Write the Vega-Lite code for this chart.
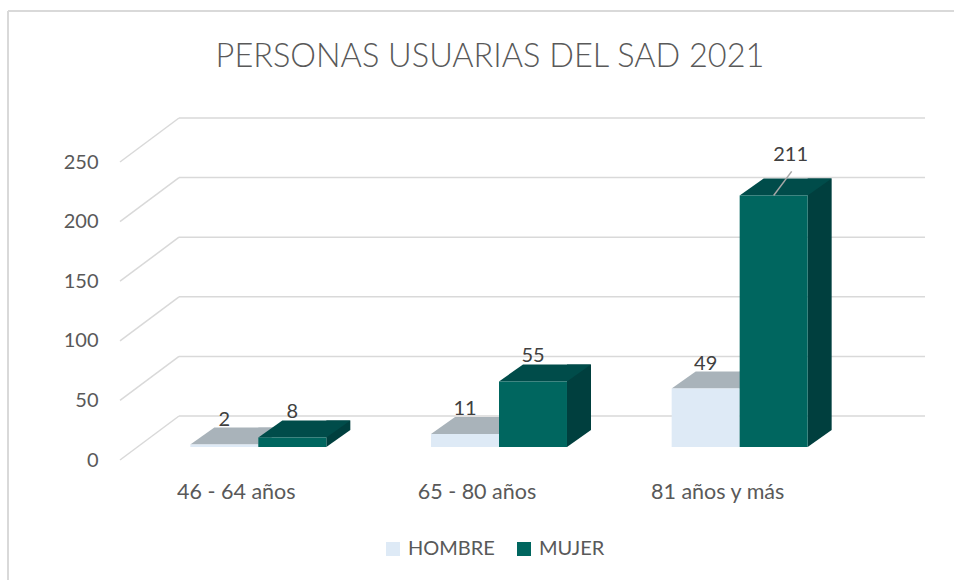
{
  "$schema": "https://vega.github.io/schema/vega-lite/v6.json",
  "autosize": {"type": "none"},
  "padding": {"left": 138, "top": 149, "right": 94, "bottom": 133},
  "width": 722,
  "height": 298,
  "background": "white",
  "config": {"view": {"stroke": null}, "font": "Lato"},
  "title": {"text": "PERSONAS USUARIAS DEL SAD 2021", "fontSize": 32.5, "fontWeight": 300, "color": "#595959", "offset": -89, "dx": -9, "baseline": "alphabetic", "font": "Lato"},
  "datasets": {
    "users": [
      {"grupo": "46 -  64 años", "sexo": "HOMBRE", "valor": 2},
      {"grupo": "46 -  64 años", "sexo": "MUJER", "valor": 8},
      {"grupo": "65 - 80 años", "sexo": "HOMBRE", "valor": 11},
      {"grupo": "65 - 80 años", "sexo": "MUJER", "valor": 55},
      {"grupo": "81 años y más", "sexo": "HOMBRE", "valor": 49},
      {"grupo": "81 años y más", "sexo": "MUJER", "valor": 211}
    ],
    "ticks": [{"tick": 0}, {"tick": 50}, {"tick": 100}, {"tick": 150}, {"tick": 200}, {"tick": 250}]
  },
  "layer": [
    {
      "data": {"name": "ticks"},
      "encoding": {
        "x": {"datum": 0, "type": "quantitative", "scale": {"domain": [0, 1]}, "axis": null},
        "y": {"field": "tick", "type": "quantitative", "scale": {"domain": [0, 250], "nice": false},
              "axis": {"title": null, "domain": false, "ticks": false, "grid": false, "values": [0, 50, 100, 150, 200, 250], "labelFontSize": 20, "labelColor": "#595959", "labelPadding": 40, "labelOffset": 13, "labelFont": "Lato"}},
        "y2": {"field": "tick"}
      },
      "layer": [
        {
          "mark": {"type": "rule", "color": "#d9d9d9", "strokeWidth": 1.5, "xOffset": 41, "x2Offset": 65, "yOffset": -31, "y2Offset": -31},
          "encoding": {"x2": {"datum": 1}}
        },
        {
          "mark": {"type": "rule", "color": "#d9d9d9", "strokeWidth": 1.5, "xOffset": -18, "x2Offset": 41, "yOffset": 13, "y2Offset": -31},
          "encoding": {"x2": {"datum": 0}}
        },
        {
          "transform": [{"filter": "datum.tick === 250"}],
          "mark": {"type": "rule", "color": "#d9d9d9", "strokeWidth": 2, "xOffset": -130, "x2Offset": 94, "yOffset": -138, "y2Offset": -138},
          "encoding": {"x2": {"datum": 1}}
        },
        {
          "transform": [{"filter": "datum.tick === 250"}],
          "mark": {"type": "rule", "color": "#d9d9d9", "strokeWidth": 2, "xOffset": -130, "x2Offset": -130, "yOffset": -138, "y2Offset": 133},
          "encoding": {"x2": {"datum": 0}, "y2": {"datum": 0}}
        }
      ]
    },
    {
      "data": {"name": "users"},
      "encoding": {
        "x": {
          "field": "grupo", "type": "nominal",
          "sort": ["46 -  64 años", "65 - 80 años", "81 años y más"],
          "scale": {"paddingInner": 0.435, "paddingOuter": 0.2175},
          "axis": {"title": null, "domain": false, "ticks": false, "labelFontSize": 21.5, "labelColor": "#595959", "labelPadding": 34, "labelOffset": -22, "labelAngle": 0, "labelFont": "Lato"}
        },
        "y": {
          "field": "valor", "type": "quantitative",
          "scale": {"domain": [0, 250], "nice": false},
          "axis": {"title": null, "domain": false, "ticks": false, "grid": false, "values": [0, 50, 100, 150, 200, 250], "labelFontSize": 20, "labelColor": "#595959", "labelPadding": 40, "labelOffset": 13, "labelFont": "Lato"}
        }
      },
      "layer": [
        {
          "transform": [{"filter": "datum.sexo === 'HOMBRE'"}],
          "mark": {"type": "rule", "strokeWidth": 24, "strokeCap": "butt", "color": "#9aa5ad", "xOffset": 12, "x2Offset": 12, "yOffset": -17, "y2Offset": -17},
          "encoding": {"y2": {"datum": 0}}
        },
        {
          "transform": [{"filter": "datum.sexo === 'MUJER'"}],
          "mark": {"type": "rule", "strokeWidth": 24, "strokeCap": "butt", "color": "#003f3e", "xOffset": 80, "x2Offset": 80, "yOffset": -17, "y2Offset": -17},
          "encoding": {"y2": {"datum": 0}}
        },
        {
          "mark": {"type": "point", "shape": "M1,0L1,-0.5L1.706,-0.5Z", "size": 4624, "filled": true, "opacity": 1, "strokeWidth": 0},
          "encoding": {
            "xOffset": {"field": "sexo", "type": "nominal", "sort": ["HOMBRE", "MUJER"], "scale": {"paddingInner": 0, "paddingOuter": 0}},
            "y": {"datum": 0},
            "color": {"condition": {"test": "datum.sexo === 'HOMBRE'", "value": "#9aa5ad"}, "value": "#003f3e"}
          }
        },
        {
          "mark": {"type": "point", "shape": "M-1,0L1,0L1.706,-0.5L-0.294,-0.5Z", "size": 4624, "filled": true, "opacity": 1, "strokeWidth": 0},
          "encoding": {
            "xOffset": {"field": "sexo", "type": "nominal", "sort": ["HOMBRE", "MUJER"], "scale": {"paddingInner": 0, "paddingOuter": 0}},
            "color": {"condition": {"test": "datum.sexo === 'HOMBRE'", "value": "#a9b3ba"}, "value": "#004c4a"}
          }
        },
        {
          "mark": {"type": "bar"},
          "encoding": {
            "xOffset": {"field": "sexo", "type": "nominal", "sort": ["HOMBRE", "MUJER"], "scale": {"paddingInner": 0, "paddingOuter": 0}},
            "color": {
              "field": "sexo", "type": "nominal",
              "scale": {"domain": ["HOMBRE", "MUJER"], "range": ["#deeaf6", "#00665f"]},
              "legend": {"title": null, "orient": "none", "legendX": 245, "legendY": 390, "direction": "horizontal", "symbolType": "square", "symbolSize": 196, "symbolStrokeWidth": 0, "labelFontSize": 20, "labelColor": "#595959", "labelFont": "Lato", "columnPadding": 19, "labelOffset": 5}
            }
          }
        },
        {
          "transform": [{"filter": "datum.valor < 200"}],
          "mark": {"type": "text", "dy": -19, "baseline": "alphabetic", "fontSize": 20, "color": "#404040", "font": "Lato"},
          "encoding": {
            "xOffset": {"field": "sexo", "type": "nominal", "sort": ["HOMBRE", "MUJER"], "scale": {"paddingInner": 0, "paddingOuter": 0}},
            "text": {"field": "valor", "type": "quantitative"}
          }
        },
        {
          "transform": [{"filter": "datum.valor >= 200"}],
          "mark": {"type": "text", "dx": 17, "dy": -34, "baseline": "alphabetic", "fontSize": 20, "color": "#404040", "font": "Lato"},
          "encoding": {
            "xOffset": {"field": "sexo", "type": "nominal", "sort": ["HOMBRE", "MUJER"], "scale": {"paddingInner": 0, "paddingOuter": 0}},
            "text": {"field": "valor", "type": "quantitative"}
          }
        },
        {
          "transform": [{"filter": "datum.valor >= 200"}],
          "mark": {"type": "point", "shape": "M0,0L0.53,-0.71", "size": 4624, "filled": false, "opacity": 1, "color": "#a6a6a6", "strokeWidth": 1.5},
          "encoding": {
            "xOffset": {"field": "sexo", "type": "nominal", "sort": ["HOMBRE", "MUJER"], "scale": {"paddingInner": 0, "paddingOuter": 0}}
          }
        }
      ]
    }
  ],
  "resolve": {"scale": {"x": "independent"}}
}
